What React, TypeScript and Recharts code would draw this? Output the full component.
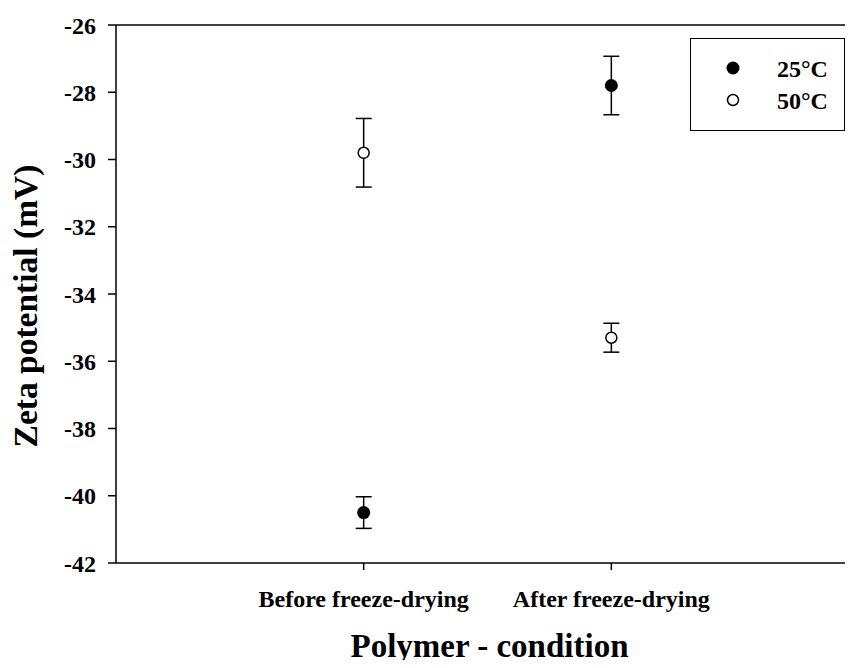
import React from "react";
import {
  ScatterChart,
  Scatter,
  XAxis,
  YAxis,
  ErrorBar,
  Legend,
  Label,
  ReferenceLine,
} from "recharts";

const conditions = ["Before freeze-drying", "After freeze-drying"];

const zeta25 = [-40.5, -27.8];
const err25 = [0.47, 0.87];

const zeta50 = [-29.8, -35.3];
const err50 = [1.02, 0.43];

const yTicks = [-42, -40, -38, -36, -34, -32, -30, -28, -26];

const FONT = "'Liberation Serif', 'Times New Roman', serif";

const toPoints = (vals: number[], errs: number[]) =>
  vals.map((v, i) => ({ x: i + 1, y: v, err: errs[i] }));

const data25 = toPoints(zeta25, err25);
const data50 = toPoints(zeta50, err50);

const FilledDot = (props: any) => (
  <circle cx={props.cx} cy={props.cy} r={6.5} fill="#000" />
);

const OpenDot = (props: any) => (
  <circle cx={props.cx} cy={props.cy} r={5.5} fill="#fff" stroke="#000" strokeWidth={1.5} />
);

// boxed legend, one row per series
const LegendBox = ({ payload }: any) => (
  <div
    style={{
      position: "relative",
      width: 155,
      height: 93,
      boxSizing: "border-box",
      border: "1.5px solid #000",
      background: "#fff",
    }}
  >
    {(payload || []).map((item: any, i: number) => (
      <div
        key={item.value}
        style={{
          position: "absolute",
          left: 0,
          top: 14 + i * 32,
          height: 32,
          display: "flex",
          alignItems: "center",
        }}
      >
        <svg width={86} height={32} style={{ display: "block" }}>
          {i === 0 ? (
            <circle cx={42} cy={15} r={6.5} fill="#000" />
          ) : (
            <circle cx={42} cy={15} r={5.5} fill="#fff" stroke="#000" strokeWidth={1.5} />
          )}
        </svg>
        <span
          style={{
            fontFamily: FONT,
            fontWeight: "bold",
            fontSize: 24,
            lineHeight: "30px",
            color: "#000",
          }}
        >
          {item.value}
        </span>
      </div>
    ))}
  </div>
);

const tickStyle = { fontFamily: FONT, fontWeight: "bold", fontSize: 24, fill: "#000" } as any;

export default function App() {
  return (
    <div style={{ width: 845, height: 660, overflow: "hidden", marginBottom: -8 }}>
      <ScatterChart
        width={870}
        height={660}
        margin={{ top: 17, right: 19, bottom: 0, left: 0 }}
      >
        <XAxis
          type="number"
          dataKey="x"
          domain={[0, 3]}
          ticks={[1, 2]}
          tickFormatter={(v: number) => conditions[v - 1]}
          height={105}
          tick={tickStyle}
          tickSize={7}
          tickMargin={20}
          stroke="#000"
          strokeWidth={1.5}
          allowDataOverflow
        >
          <Label
            content={({ viewBox }: any) => (
              <text
                x={viewBox.x + viewBox.width / 2 + 2}
                y={649}
                textAnchor="middle"
                fontFamily={FONT}
                fontWeight="bold"
                fontSize={33}
                fill="#000"
              >
                Polymer - condition
              </text>
            )}
          />
        </XAxis>
        <YAxis
          type="number"
          dataKey="y"
          domain={[-42, -26]}
          ticks={yTicks}
          width={108}
          tick={tickStyle}
          tickSize={8}
          tickMargin={12}
          stroke="#000"
          strokeWidth={1.5}
          allowDataOverflow
        >
          <Label
            content={({ viewBox }: any) => {
              const cy = viewBox.y + viewBox.height / 2 + 12;
              return (
                <text
                  x={29}
                  y={cy}
                  transform={`rotate(-90, 29, ${cy})`}
                  textAnchor="middle"
                  fontFamily={FONT}
                  fontWeight="bold"
                  fontSize={33.5}
                  fill="#000"
                >
                  Zeta potential (mV)
                </text>
              );
            }}
          />
        </YAxis>
        <ReferenceLine y={-26} stroke="#000" strokeWidth={1.5} ifOverflow="visible" />
        <ReferenceLine x={3} stroke="#000" strokeWidth={1.5} ifOverflow="visible" />
        <Scatter name="25°C" data={data25} shape={FilledDot} isAnimationActive={false}>
          <ErrorBar dataKey="err" direction="y" width={8} stroke="#000" strokeWidth={1.5} />
        </Scatter>
        <Scatter name="50°C" data={data50} shape={OpenDot} isAnimationActive={false}>
          <ErrorBar dataKey="err" direction="y" width={8} stroke="#000" strokeWidth={1.5} />
        </Scatter>
        <Legend
          layout="vertical"
          align="center"
          verticalAlign="middle"
          content={(props: any) => <LegendBox payload={props.payload} />}
          wrapperStyle={{
            position: "absolute",
            left: 682,
            top: 30,
            right: "auto",
            bottom: "auto",
            width: 155,
            height: 93,
          }}
        />
      </ScatterChart>
    </div>
  );
}
